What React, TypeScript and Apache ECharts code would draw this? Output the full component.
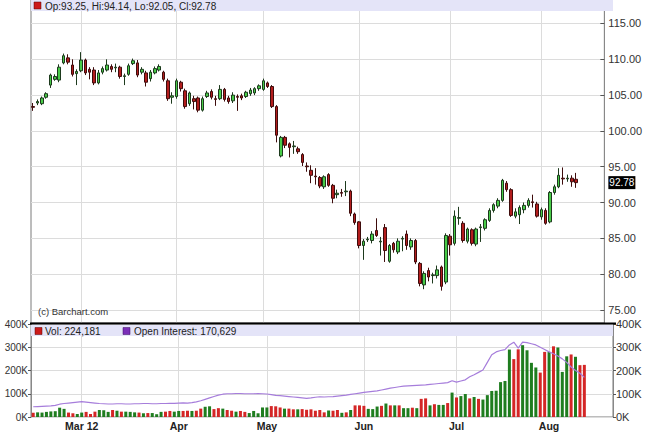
import React, { useEffect, useRef } from 'react';
import * as echarts from 'echarts';

// trading days (2012), last 6 are empty future slots on the axis
const tradingDays = [
  '02-14','02-15','02-16','02-17','02-21','02-22','02-23','02-24','02-27','02-28','02-29',
  '03-01','03-02','03-05','03-06','03-07','03-08','03-09','03-12','03-13','03-14','03-15','03-16','03-19','03-20','03-21','03-22','03-23','03-26','03-27','03-28','03-29','03-30',
  '04-02','04-03','04-04','04-05','04-09','04-10','04-11','04-12','04-13','04-16','04-17','04-18','04-19','04-20','04-23','04-24','04-25','04-26','04-27','04-30',
  '05-01','05-02','05-03','05-04','05-07','05-08','05-09','05-10','05-11','05-14','05-15','05-16','05-17','05-18','05-21','05-22','05-23','05-24','05-25','05-29','05-30','05-31',
  '06-01','06-04','06-05','06-06','06-07','06-08','06-11','06-12','06-13','06-14','06-15','06-18','06-19','06-20','06-21','06-22','06-25','06-26','06-27','06-28','06-29',
  '07-02','07-03','07-05','07-06','07-09','07-10','07-11','07-12','07-13','07-16','07-17','07-18','07-19','07-20','07-23','07-24','07-25','07-26','07-27','07-30','07-31',
  '08-01','08-02','08-03','08-06','08-07','08-08','08-09','08-10','08-13',
  '08-14','08-15','08-16','08-17','08-20','08-21',
];

const monthTickLabels: Record<string, string> = {
  '03-01': 'Mar 12', '04-02': 'Apr', '05-01': 'May', '06-01': 'Jun', '07-02': 'Jul', '08-01': 'Aug',
};

const opens = [
  103.4,103.9,103.8,104.7,106.4,107.2,107.1,109.5,110.2,109.2,
  108.0,108.4,109.9,108.6,108.5,106.7,108.2,108.5,109.0,108.8,
  108.9,107.6,107.9,109.4,109.5,108.2,108.1,107.3,108.1,108.5,
  108.2,107.0,104.7,104.8,106.8,105.6,103.8,104.5,104.6,102.9,
  104.8,105.5,104.5,104.5,105.8,104.6,104.2,104.8,104.9,104.8,
  105.2,105.3,105.9,105.8,106.7,106.2,103.4,96.5,99.1,98.2,
  97.8,97.5,96.7,95.1,94.5,93.7,93.5,92.2,93.9,92.4,
  91.1,91.4,91.5,91.6,88.4,87.3,84.0,84.8,84.7,86.1,
  84.5,86.5,81.8,84.3,83.1,84.9,85.6,83.8,84.7,81.5,
  78.5,80.5,79.8,79.8,81.0,78.9,85.3,84.3,87.8,87.1,
  84.6,86.2,84.2,86.5,86.4,87.5,88.9,89.5,90.3,92.7,
  91.8,88.1,88.3,89.0,89.6,90.1,89.8,88.0,88.9,87.3,
  91.4,92.2,93.4,93.3,93.4,93.25,
];
const highs = [
  103.9,104.4,104.8,105.4,108.0,107.9,109.3,110.8,110.7,110.0,
  108.6,111.0,110.1,108.9,108.9,108.5,109.0,110.0,109.3,109.4,
  109.1,108.0,109.4,110.1,109.9,108.9,108.4,108.5,109.0,109.3,
  108.4,107.3,105.4,107.3,107.0,105.9,105.5,104.9,104.8,104.8,
  105.6,105.8,104.9,106.4,106.0,104.9,105.4,105.1,105.2,105.6,
  106.0,106.1,106.5,107.3,106.9,106.4,103.6,99.3,99.3,98.4,
  98.6,97.8,96.9,95.6,95.2,94.8,93.7,93.8,94.1,92.6,
  91.8,91.9,93.0,91.8,88.6,87.4,84.9,85.2,86.0,87.8,
  85.2,87.0,84.2,84.5,85.0,85.3,86.1,85.0,84.9,81.7,
  80.4,80.9,80.2,81.2,81.2,85.7,85.6,88.9,89.4,87.4,
  86.5,86.4,86.5,87.0,87.8,89.2,89.9,90.6,93.3,93.0,
  92.0,89.2,89.6,90.0,90.6,91.1,90.1,89.3,89.2,91.6,
  92.5,94.8,94.9,93.9,93.8,94.14,
];
const lows = [
  102.8,103.6,103.6,104.5,106.0,107.0,106.8,109.3,109.3,107.6,
  106.4,108.2,107.8,107.2,106.4,106.5,107.9,108.3,108.2,108.2,
  107.3,106.4,107.7,109.2,107.5,107.9,106.2,106.9,107.9,108.3,
  106.9,104.2,103.8,104.5,105.5,103.1,103.5,103.0,102.6,102.7,
  104.6,104.4,103.5,104.3,104.1,103.8,103.9,102.8,104.3,104.6,
  104.9,105.0,105.6,105.6,106.0,103.2,98.4,96.3,97.6,96.3,
  96.8,96.8,95.1,94.3,92.7,92.5,92.0,91.9,92.2,89.9,
  90.6,90.8,90.9,88.1,86.9,83.6,82.0,84.5,84.3,85.2,
  82.6,81.7,81.6,83.0,82.8,83.2,83.4,83.4,81.4,78.3,
  77.9,79.0,78.7,79.4,77.7,78.6,82.6,84.0,86.9,84.4,
  84.3,84.0,83.9,84.5,86.1,87.3,88.6,89.2,90.1,91.5,
  88.0,87.8,87.0,88.5,89.3,89.3,87.9,87.6,86.9,87.1,
  91.1,92.0,92.5,92.9,92.2,92.05,
];
const closes = [
  103.3,104.1,104.6,105.2,107.8,107.6,108.9,110.5,109.6,107.9,
  108.3,109.9,108.1,108.2,106.7,108.1,108.7,109.2,108.6,108.9,
  107.6,107.7,109.1,109.8,107.8,108.6,106.8,108.2,108.7,109.0,
  107.2,104.5,104.9,107.0,105.9,103.4,105.3,104.1,102.9,104.5,
  105.3,104.7,104.4,105.8,104.4,104.1,105.0,104.7,104.6,105.4,
  105.7,105.9,106.3,107.0,106.2,103.4,99.4,99.1,98.0,97.7,
  97.9,97.1,95.6,95.0,93.8,93.6,92.3,93.6,92.4,90.6,
  91.3,91.3,91.6,88.5,87.2,84.0,84.6,84.9,85.6,85.4,
  84.6,83.3,84.0,83.4,84.6,85.0,84.0,84.7,81.7,78.7,
  80.1,79.6,79.9,80.6,78.3,85.4,84.1,88.1,87.9,84.7,
  86.3,84.3,86.3,86.6,87.6,88.9,89.7,90.3,93.1,91.8,
  88.2,88.7,89.3,89.6,90.3,90.0,88.1,89.0,87.1,91.4,
  92.2,93.8,93.3,93.4,92.9,92.78,
];
// volume in thousands of contracts
const volumes = [
  18,20,19,22,24,25,40,35,19,16,13,
  19,22,13,23,30,29,22,30,27,23,23,
  22,20,19,16,17,17,12,22,23,26,23,
  26,26,27,26,27,36,44,46,34,38,36,
  30,27,23,26,22,17,26,16,41,41,47,
  46,41,36,36,33,33,34,31,33,27,30,
  20,28,27,30,18,20,30,50,50,48,35,
  34,45,48,58,50,50,50,38,38,40,38,
  78,80,50,55,52,52,60,105,84,90,99,
  80,86,78,75,94,112,113,150,155,290,249,
  291,309,287,233,213,191,280,280,304,299,194,
  261,269,259,223,224.181,
];
// open interest in thousands of contracts
const openInterest = [
  44,45,46,47,48,50,
  55,58,60,62,64,66,
  64,62,60,58,57,
  56,56,57,57,56,56,57,57,58,58,57,57,58,58,59,59,
  60,61,60,62,65,
  70,76,82,88,94,98,
  100,100,101,101,100,100,100,101,100,99,
  96,93,92,90,88,86,84,82,
  80,82,85,87,86,
  87,88,90,92,94,97,100,103,106,
  108,110,112,116,120,124,127,130,133,
  134,135,136,137,138,140,142,144,146,148,
  156,150,155,160,173,182,192,202,235,268,
  280,286,290,310,322,296,322,320,315,310,
  300,290,280,272,262,250,235,215,200,188,
  170.629,
];

const UP_FILL = '#48cc48';
const DOWN_FILL = '#b31d1d';
const VOL_UP = '#1f7d1f';
const VOL_DOWN = '#d42626';
const OI_COLOR = '#a67ddb';
const BAND = '#e4e4f8';
const GRIDLINE = '#dcdcdc';
const FONT = '"Liberation Sans", Arial, sans-serif';

export default function App() {
  const ref = useRef<HTMLDivElement>(null);

  useEffect(() => {
    if (!ref.current) return;
    const chart = echarts.init(ref.current, undefined, { renderer: 'svg' });
    const last = opens.length - 1;
    const lastClose = closes[last];
    const fmtInt = (v: number) => Math.round(v * 1000).toLocaleString('en-US');
    const isMonthTick = (_i: number, v: string) => v in monthTickLabels;

    const candleData = opens.map((o, i) => [o, closes[i], lows[i], highs[i]]);
    const volData = volumes.map((v, i) => ({
      value: v,
      itemStyle: { color: closes[i] >= opens[i] ? VOL_UP : VOL_DOWN },
    }));

    const option: any = {
      animation: false,
      textStyle: { fontFamily: FONT },
      grid: [
        { left: 31, right: 32, top: 0, height: 323, show: true, borderColor: '#7a7a7a', borderWidth: 1 },
        { left: 31, right: 32, top: 324, height: 93, show: true, borderColor: '#7a7a7a', borderWidth: 1 },
      ],
      xAxis: [
        {
          type: 'category', gridIndex: 0, data: tradingDays, boundaryGap: true,
          axisLine: { show: false }, axisTick: { show: false }, axisLabel: { show: false },
          splitLine: { show: true, alignWithLabel: true, interval: isMonthTick, lineStyle: { color: GRIDLINE } },
        },
        {
          type: 'category', gridIndex: 1, data: tradingDays, boundaryGap: true,
          axisLine: { show: false }, axisTick: { show: false },
          axisLabel: {
            show: true, interval: isMonthTick, formatter: (v: string) => monthTickLabels[v] || '',
            fontWeight: 'bold', fontSize: 10.5, color: '#222', margin: 3, fontFamily: FONT,
          },
          splitLine: { show: true, alignWithLabel: true, interval: isMonthTick, lineStyle: { color: GRIDLINE } },
        },
      ],
      yAxis: [
        {
          type: 'value', gridIndex: 0, position: 'right', min: 73.18, max: 118.28, splitNumber: 9,
          axisLine: { show: true, lineStyle: { color: '#888' } },
          axisTick: { show: true, inside: true, length: 4, lineStyle: { color: '#555' } },
          axisLabel: {
            formatter: (v: number) => v.toFixed(2), showMinLabel: false, showMaxLabel: false,
            fontSize: 11, color: '#333', margin: 4, fontFamily: FONT,
          },
          splitLine: { show: true, lineStyle: { color: GRIDLINE } },
        },
        {
          type: 'value', gridIndex: 1, position: 'right', min: 0, max: 400, interval: 100,
          axisLine: { show: true, lineStyle: { color: '#888' } },
          axisTick: { show: true, length: 3, lineStyle: { color: '#555' } },
          axisLabel: { formatter: '{value}K', fontSize: 11, color: '#333', margin: 3, fontFamily: FONT },
          splitLine: { show: true, lineStyle: { color: GRIDLINE } },
        },
        {
          type: 'value', gridIndex: 1, position: 'left', min: 0, max: 400, interval: 100,
          axisLine: { show: true, lineStyle: { color: '#888' } },
          axisTick: { show: true, length: 3, lineStyle: { color: '#555' } },
          axisLabel: { formatter: '{value}K', fontSize: 10, color: '#333', margin: 3, fontFamily: FONT },
          splitLine: { show: false },
        },
      ],
      series: [
        {
          name: 'Price', type: 'candlestick', xAxisIndex: 0, yAxisIndex: 0, data: candleData,
          barWidth: 3,
          itemStyle: {
            color: UP_FILL, color0: DOWN_FILL, borderColor: '#1d3a1d', borderColor0: '#3e0c0c', borderWidth: 1,
          },
          markLine: {
            silent: true, symbol: ['none', 'none'], animation: false,
            lineStyle: { color: 'rgba(0,0,0,0)', width: 1, type: 'solid' },
            data: [{ yAxis: lastClose, name: 'last' }],
            label: {
              show: true, position: 'end', formatter: () => lastClose.toFixed(2),
              backgroundColor: '#000', color: '#fff', fontSize: 10, padding: [2, 1, 1, 1], distance: 4,
              fontFamily: FONT,
            },
          },
        },
        {
          name: 'Vol', type: 'bar', xAxisIndex: 1, yAxisIndex: 1, data: volData, barWidth: 3,
        },
        {
          name: 'Open Interest', type: 'line', xAxisIndex: 1, yAxisIndex: 1, data: openInterest,
          showSymbol: false, symbol: 'none', lineStyle: { color: OI_COLOR, width: 1.2 }, z: 5,
        },
      ],
      graphic: [
        { type: 'rect', shape: { x: 31, y: 0, width: 582, height: 11 }, style: { fill: BAND }, z: 50 },
        { type: 'rect', shape: { x: 34, y: 2, width: 7, height: 7 }, style: { fill: '#cc1a1a', stroke: '#5a0000', lineWidth: 0.5 }, z: 51 },
        {
          type: 'text', x: 45, y: 6, z: 51,
          style: {
            text: `Op:${opens[last].toFixed(2)}, Hi:${highs[last].toFixed(2)}, Lo:${lows[last].toFixed(2)}, Cl:${closes[last].toFixed(2)}`,
            fontSize: 10, fontFamily: FONT, fill: '#222', verticalAlign: 'middle',
          },
        },
        {
          type: 'text', x: 38, y: 311, z: 51,
          style: { text: '(c) Barchart.com', fontSize: 9.5, fontFamily: FONT, fill: '#333', verticalAlign: 'middle' },
        },
        { type: 'rect', shape: { x: 30, y: 322.5, width: 586, height: 2 }, style: { fill: '#000' }, z: 52 },
        { type: 'rect', shape: { x: 31, y: 325, width: 582, height: 11 }, style: { fill: BAND }, z: 50 },
        { type: 'rect', shape: { x: 35, y: 327.5, width: 7, height: 7 }, style: { fill: '#cc1a1a', stroke: '#5a0000', lineWidth: 0.5 }, z: 51 },
        {
          type: 'text', x: 45, y: 331.5, z: 51,
          style: { text: `Vol: ${fmtInt(volumes[last])}`, fontSize: 10, fontFamily: FONT, fill: '#222', verticalAlign: 'middle' },
        },
        { type: 'rect', shape: { x: 123, y: 327.5, width: 7, height: 7 }, style: { fill: '#7b2fb8', stroke: '#3a0a60', lineWidth: 0.5 }, z: 51 },
        {
          type: 'text', x: 134, y: 331.5, z: 51,
          style: { text: `Open Interest: ${fmtInt(openInterest[last])}`, fontSize: 10, fontFamily: FONT, fill: '#222', verticalAlign: 'middle' },
        },
      ],
    };

    chart.setOption(option);
    return () => chart.dispose();
  }, []);

  return (
    <div
      ref={ref}
      style={{ position: 'fixed', left: 0, top: 0, width: 645, height: 437, background: '#fff' }}
    />
  );
}
